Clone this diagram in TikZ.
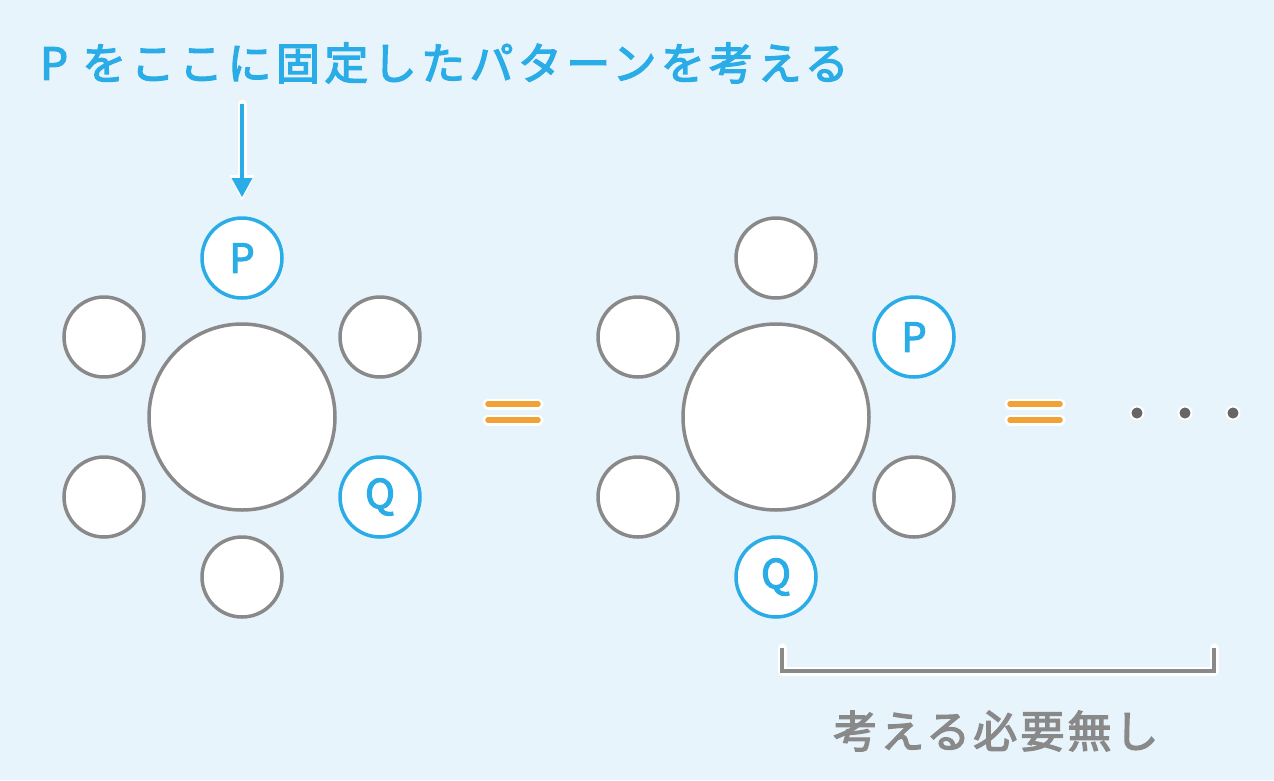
\documentclass[tikz,border=0pt]{standalone}
\usepackage{fontspec}
\usetikzlibrary{calc}
\newfontfamily\cjk{Noto Sans CJK JP}[FakeBold=3]
\definecolor{bg}{HTML}{E8F4FC}
\definecolor{myblue}{HTML}{2AACE6}
\definecolor{mygray}{HTML}{898989}
\definecolor{myorange}{HTML}{F0A236}
\definecolor{dotgray}{HTML}{666666}
\tikzset{
  seat/.style={circle,draw=mygray,fill=white,line width=3.5pt,minimum size=80pt,inner sep=0pt},
  pseat/.style={seat,draw=myblue,text=myblue,font=\cjk\fontsize{40}{40}\selectfont},
  table/.style={circle,draw=mygray,fill=white,line width=3.5pt,minimum size=186pt,inner sep=0pt},
  halo/.style={white,line width=11pt,line cap=round},
  eqline/.style={myorange,line width=5.5pt,line cap=round},
}
\begin{document}
\begin{tikzpicture}[x=1pt,y=-1pt]
\fill[bg] (0,0) rectangle (1274,780);
\useasboundingbox (0,0) rectangle (1274,780);
% left group
\node[table] (T1) at (242,417) {};
\node[pseat] (L90) at (242,258) {P};
\node[seat] (L30) at (380,337) {};
\node[seat] (L150) at (104,337) {};
\node[seat] (L210) at (104,497) {};
\node[pseat] (L330) at (380,497) {Q};
\node[seat] (L270) at (242,577) {};
% right group
\node[table] (T2) at (776,417) {};
\node[seat] (R90) at (776,258) {};
\node[pseat] (R30) at (914,337) {P};
\node[seat] (R150) at (638,337) {};
\node[seat] (R210) at (638,497) {};
\node[seat] (R330) at (914,497) {};
\node[pseat] (R270) at (776,577) {Q};
% top label and arrow
\node[anchor=west,inner sep=0pt,text=myblue,font=\cjk\fontsize{44}{44}\selectfont\addfontfeature{LetterSpace=10}] (top) at (40,63) {P をここに固定したパターンを考える};
\coordinate (a1) at (242,104);
\coordinate (a2) at (242,197);
\draw[white,line width=9pt,line cap=round] (a1) -- ($(a2)+(0,-8)$);
\fill[white,rounded corners=1pt] (229.5,175) -- (254.5,175) -- (242,201) -- cycle;
\draw[myblue,line width=4pt] (a1) -- (242,182);
\fill[myblue] (231.5,178) -- (252.5,178) -- (242,197) -- cycle;
% equals signs
\coordinate (e1a) at (488,404); \coordinate (e1b) at (538,404);
\coordinate (e1c) at (488,420); \coordinate (e1d) at (538,420);
\coordinate (e2a) at (1010,404); \coordinate (e2b) at (1060,404);
\coordinate (e2c) at (1010,420); \coordinate (e2d) at (1060,420);
\foreach \p/\q in {e1a/e1b,e1c/e1d,e2a/e2b,e2c/e2d}{
  \draw[halo] (\p) -- (\q);
}
\foreach \p/\q in {e1a/e1b,e1c/e1d,e2a/e2b,e2c/e2d}{
  \draw[eqline] (\p) -- (\q);
}
% dots
\foreach \x/\n in {1137/d1,1185/d2,1233/d3}{
  \node[circle,fill=dotgray,draw=white,line width=2pt,inner sep=0pt,minimum size=13pt] (\n) at (\x,413) {};
}
% bracket
\coordinate (b1) at (782,648); \coordinate (b2) at (782,671);
\coordinate (b3) at (1214,671); \coordinate (b4) at (1214,648);
\draw[white,line width=9pt,line cap=round,line join=round] (b1) -- (b2) -- (b3) -- (b4);
\draw[mygray,line width=4pt] (b1) -- (b2) -- (b3) -- (b4);
\node[inner sep=0pt,text=mygray,font=\cjk\fontsize{44}{44}\selectfont\addfontfeature{LetterSpace=7}] (bottom) at (996,731) {考える必要無し};
\end{tikzpicture}
\end{document}
